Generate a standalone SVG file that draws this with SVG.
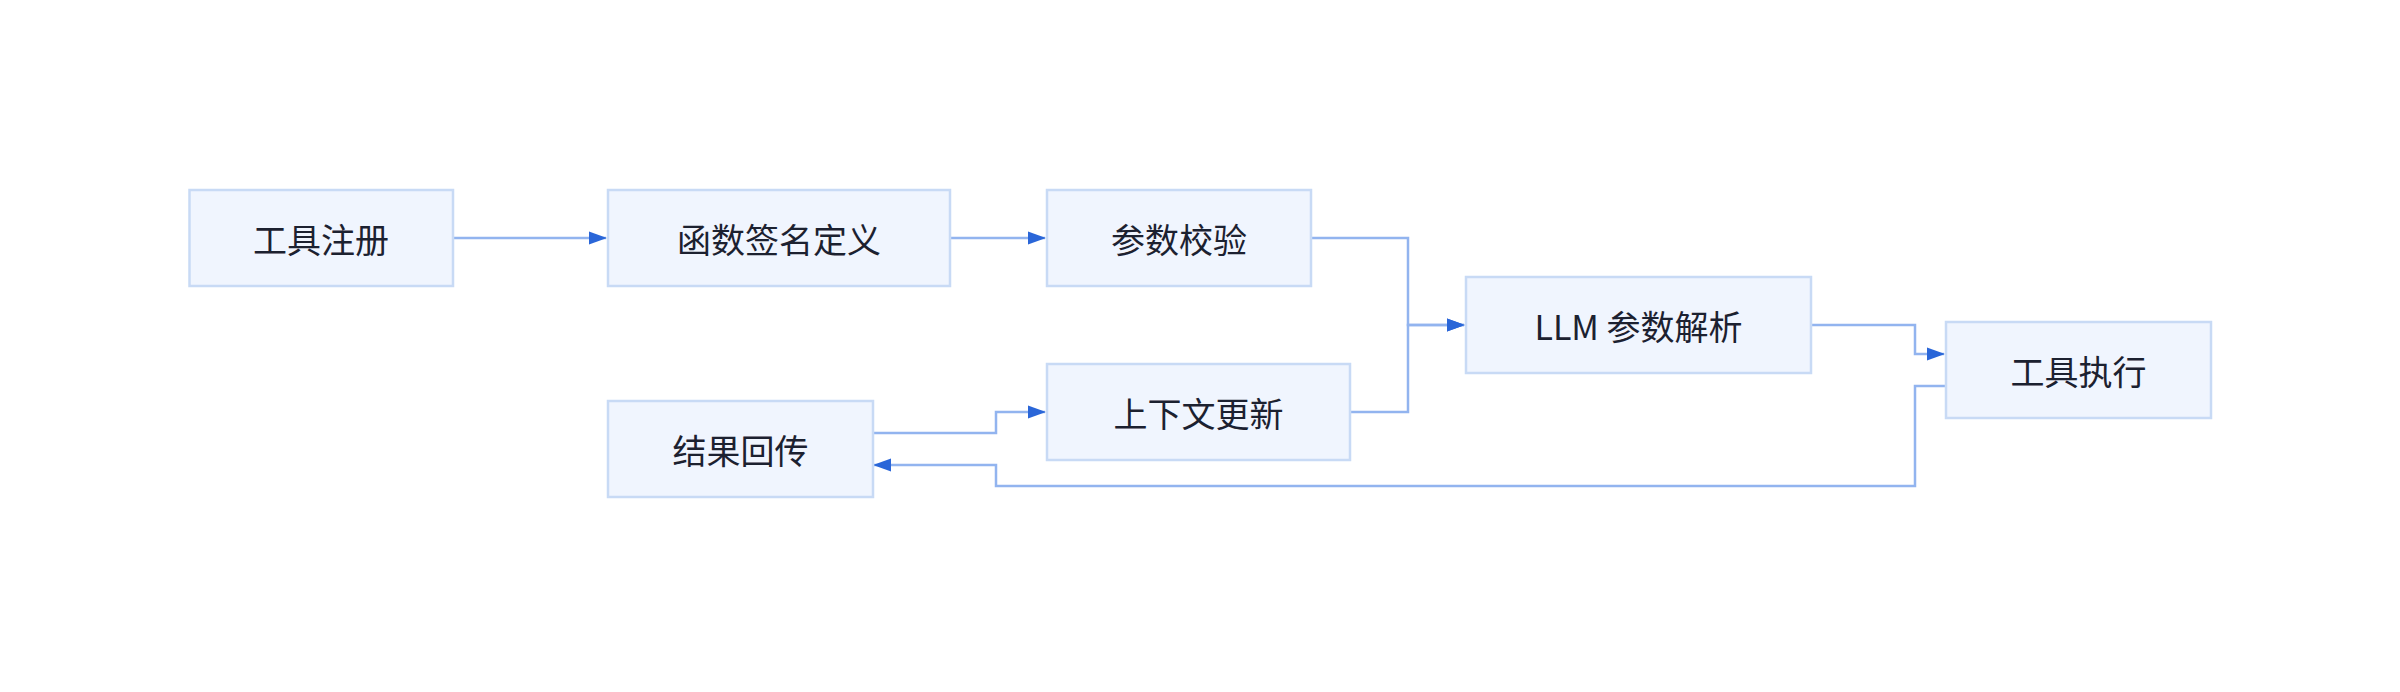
<svg xmlns="http://www.w3.org/2000/svg" width="2400" height="692" viewBox="0 0 2400 692">
<style>
.node rect{fill:#f0f5fe;stroke:#c8daf5;stroke-width:2.5}
.node text{font-family:"Noto Sans CJK SC","Noto Sans",sans-serif;font-size:34px;fill:#1c2130;text-anchor:middle;dominant-baseline:central}
.edges path{fill:none;stroke:#92b4ef;stroke-width:2.5}
</style>
<defs>
<marker id="arr" markerUnits="userSpaceOnUse" markerWidth="18" markerHeight="14" refX="17" refY="7" orient="auto">
<path d="M0,0.5 L18,7 L0,13.5 z" fill="#2a66d8"/>
</marker>
</defs>
<rect width="2400" height="692" fill="#ffffff"/>
<g class="edges">
<path d="M453,238 H606" marker-end="url(#arr)"/>
<path d="M950,238 H1045" marker-end="url(#arr)"/>
<path d="M1311,238 H1408 V325 H1464" marker-end="url(#arr)"/>
<path d="M1350,412 H1408 V325 H1464" marker-end="url(#arr)"/>
<path d="M1811,325 H1915 V354 H1944" marker-end="url(#arr)"/>
<path d="M1946,386 H1915 V486 H996 V465 H874" marker-end="url(#arr)"/>
<path d="M873,433 H996 V412 H1045" marker-end="url(#arr)"/>
</g>
<g id="n1" class="node"><rect x="189.5" y="190" width="263.5" height="96"/><text x="321" y="238">工具注册</text></g>
<g id="n2" class="node"><rect x="608" y="190" width="342" height="96"/><text x="779" y="238">函数签名定义</text></g>
<g id="n3" class="node"><rect x="1047" y="190" width="264" height="96"/><text x="1179" y="238">参数校验</text></g>
<g id="n4" class="node"><rect x="1466" y="277" width="345" height="96"/><text x="1638.5" y="325">LLM 参数解析</text></g>
<g id="n5" class="node"><rect x="1946" y="322" width="265" height="96"/><text x="2078.5" y="370">工具执行</text></g>
<g id="n6" class="node"><rect x="1047" y="364" width="303" height="96"/><text x="1198.5" y="412">上下文更新</text></g>
<g id="n7" class="node"><rect x="608" y="401" width="265" height="96"/><text x="740.5" y="449">结果回传</text></g>
</svg>
